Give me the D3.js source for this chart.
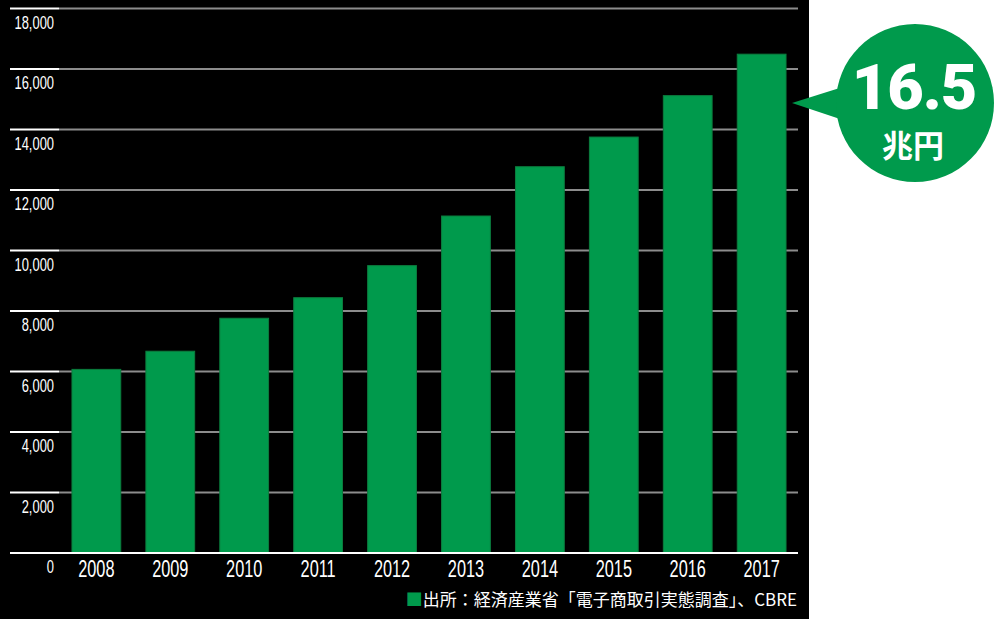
<!DOCTYPE html>
<html>
<head>
<meta charset="utf-8">
<script src="https://cdn.jsdelivr.net/npm/d3@7"></script>
<style>
html,body{margin:0;padding:0;background:#fff;}
svg{display:block;}
</style>
</head>
<body>
<svg id="chart" width="1000" height="619"></svg>
<script>
const years = ["2008","2009","2010","2011","2012","2013","2014","2015","2016","2017"];
const values = [6070, 6670, 7760, 8440, 9500, 11140, 12770, 13750, 15120, 16490];
const yTicks = [0, 2000, 4000, 6000, 8000, 10000, 12000, 14000, 16000, 18000];
const calloutValue = "16.5";
const calloutUnit = "兆円";
const sourceText = "出所：経済産業省「電子商取引実態調査」、CBRE";

const svg = d3.select("#chart");
const narrow = "'Liberation Sans','Arimo',sans-serif";
const green = "#009a4c";

svg.append("rect").attr("x",0).attr("y",0).attr("width",809).attr("height",619).attr("fill","#000");

const x = d3.scaleBand().domain(years).range([59.4, 798.6]).paddingInner(0.34).paddingOuter(0.17);
const y = d3.scaleLinear().domain([0, 18000]).range([553, 8.5]);

// gridlines
const grid = svg.append("g");
yTicks.filter(d=>d>0).forEach(t=>{
  grid.append("line").attr("x1",59).attr("x2",798).attr("y1",y(t)).attr("y2",y(t))
    .attr("stroke","#8c8c8c").attr("stroke-width",2);
  grid.append("line").attr("x1",10).attr("x2",59).attr("y1",y(t)).attr("y2",y(t))
    .attr("stroke","#ffffff").attr("stroke-width",2);
});

// bars
svg.append("g").selectAll("rect").data(values).join("rect")
  .attr("x",(d,i)=>x(years[i]))
  .attr("y",d=>y(d))
  .attr("width",x.bandwidth())
  .attr("height",d=>y(0)-y(d))
  .attr("fill",green)
  .attr("stroke","#0b7d3e").attr("stroke-width",1);

// baseline
svg.append("line").attr("x1",10).attr("x2",798).attr("y1",y(0)).attr("y2",y(0))
  .attr("stroke","#fff").attr("stroke-width",2);

// y labels (condensed via horizontal scale)
svg.append("g").selectAll("text").data(yTicks).join("text")
  .attr("transform",d=>`translate(54,${y(d)+20}) scale(0.68,1)`)
  .attr("text-anchor","end")
  .attr("fill","#fff").attr("font-family",narrow).attr("font-size",19)
  .text(d=>d3.format(",")(d));

// x labels
svg.append("g").selectAll("text").data(years).join("text")
  .attr("transform",d=>`translate(${x(d)+x.bandwidth()/2},577) scale(0.68,1)`)
  .attr("text-anchor","middle")
  .attr("fill","#fff").attr("font-family",narrow).attr("font-size",24)
  .text(d=>d);

// source
const src = svg.append("text").attr("x",797).attr("y",606).attr("text-anchor","end")
  .attr("font-family","'Noto Sans CJK JP',sans-serif").attr("font-size",17).attr("fill","#fff");
src.append("tspan").attr("fill",green).text("■");
src.append("tspan").text(sourceText);

// callout bubble
const cx = 915, cy = 103, r = 79;
svg.append("path")
  .attr("d",`M792,103 L846,86 L846,121 Z`)
  .attr("fill",green);
svg.append("circle").attr("cx",cx).attr("cy",cy).attr("r",r).attr("fill",green);
svg.append("text").attr("x",cx-1).attr("y",109).attr("text-anchor","middle")
  .attr("font-family","Roboto,'Open Sans',sans-serif").attr("font-weight",900)
  .attr("font-size",63).attr("letter-spacing",-1).attr("fill","#fff").text(calloutValue);
svg.append("text").attr("x",cx-2).attr("y",157).attr("text-anchor","middle")
  .attr("font-family","'Noto Sans CJK JP',sans-serif").attr("font-weight",700)
  .attr("font-size",31).attr("fill","#fff").text(calloutUnit);
</script>
</body>
</html>
